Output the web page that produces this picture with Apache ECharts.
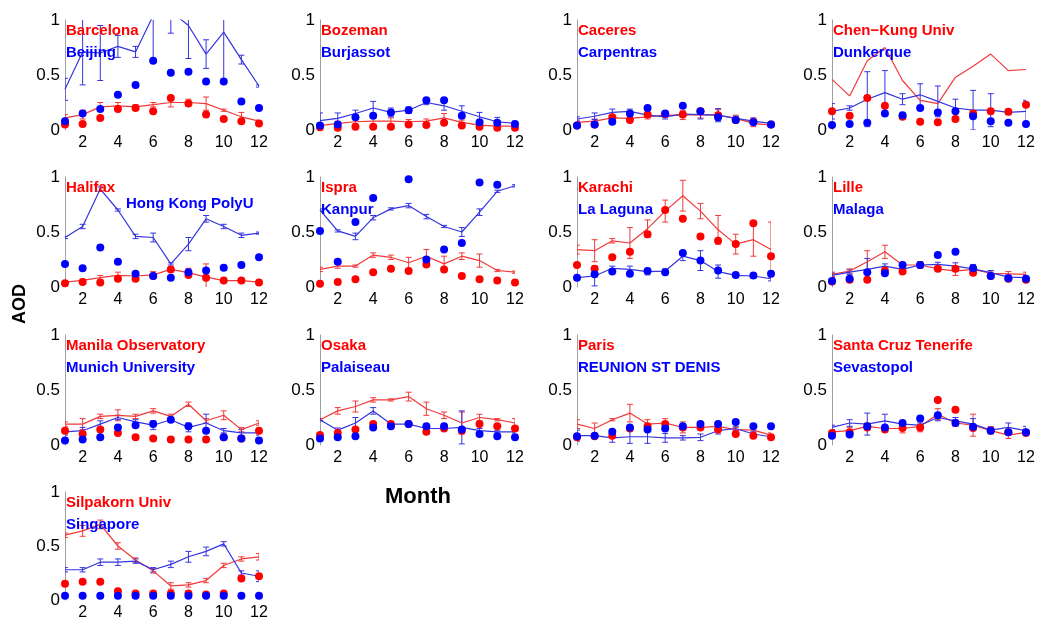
<!DOCTYPE html>
<html><head><meta charset="utf-8">
<script src="https://cdn.jsdelivr.net/npm/echarts@6/dist/echarts.min.js"></script>
<style>html,body{margin:0;padding:0;background:#fff}#c{width:1038px;height:621px}</style>
</head><body><div id="c"></div>
<script>
const months = [1,2,3,4,5,6,7,8,9,10,11,12];
const yTicks = [0, 0.5, 1];
const siteRed = ['Barcelona','Bozeman','Caceres','Chen\u2212Kung Univ','Halifax','Ispra','Karachi','Lille','Manila Observatory','Osaka','Paris','Santa Cruz Tenerife','Silpakorn Univ'];
const siteBlue = ['Beijing','Burjassot','Carpentras','Dunkerque','Hong Kong PolyU','Kanpur','La Laguna','Malaga','Munich University','Palaiseau','REUNION ST DENIS','Sevastopol','Singapore'];

// ground-station monthly mean AOD (lines) and std (error bars)
const redMean = [
 [0.11,0.14,0.21,0.22,0.21,0.23,0.25,0.25,0.24,0.18,0.12,0.08],
 [0.04,0.06,0.075,0.08,0.08,0.075,0.08,0.11,0.07,0.045,0.035,0.035],
 [0.07,0.08,0.11,0.105,0.12,0.135,0.135,0.14,0.135,0.105,0.06,0.045],
 [0.46,0.31,0.63,0.75,0.45,0.27,0.24,0.48,0.58,0.69,0.54,0.55],
 [0.045,0.06,0.085,0.105,0.1,0.11,0.16,0.13,0.09,0.058,0.058,0.045],
 [0.16,0.19,0.19,0.29,0.27,0.22,0.28,0.21,0.28,0.24,0.15,0.135],
 [0.34,0.33,0.42,0.40,0.53,0.69,0.83,0.69,0.52,0.39,0.43,0.34],
 [0.115,0.145,0.23,0.32,0.2,0.2,0.165,0.145,0.16,0.125,0.12,0.115],
 [0.19,0.19,0.26,0.27,0.26,0.31,0.26,0.37,0.22,0.27,0.14,0.2],
 [0.23,0.31,0.35,0.41,0.41,0.44,0.33,0.27,0.2,0.25,0.23,0.2],
 [0.19,0.15,0.23,0.29,0.19,0.2,0.16,0.16,0.17,0.14,0.135,0.09],
 [0.12,0.13,0.17,0.15,0.15,0.17,0.28,0.2,0.18,0.13,0.09,0.115],
 [0.60,0.64,0.70,0.50,0.37,0.27,0.13,0.14,0.18,0.32,0.38,0.40]
];
const redErr = [
 [0.03,0.04,0.04,0.03,0.02,0.02,0.04,0.03,0.06,0.01,0.04,0.01],
 [0.02,0.02,0.02,0.03,0.03,0.02,0.02,0.04,0.02,0.02,0.01,0.01],
 [0.02,0.02,0.02,0.02,0.02,0.02,0.04,0.03,0.05,0.03,0.03,0.01],
 [0,0,0,0,0,0,0,0,0,0,0,0],
 [0.01,0.01,0.02,0.03,0.02,0.03,0.02,0.04,0.12,0.01,0.01,0.01],
 [0.02,0.02,0.01,0.02,0.02,0.05,0.06,0.07,0.03,0.06,0.01,0.01],
 [0.04,0.1,0.02,0.14,0.08,0.1,0.14,0.07,0.13,0.09,0.15,0.25],
 [0.02,0.02,0.1,0.06,0.01,0.02,0.02,0.04,0.02,0.02,0.02,0.02],
 [0.02,0.05,0.02,0.05,0.02,0.02,0.02,0.02,0.02,0.04,0.02,0.02],
 [0.01,0.03,0.05,0.02,0.01,0.04,0.06,0.03,0.1,0.03,0.01,0.04],
 [0.04,0.05,0.01,0.08,0.04,0.04,0.05,0.02,0.02,0.02,0.02,0.02],
 [0.02,0.03,0.03,0.02,0.04,0.05,0.05,0.03,0.1,0.03,0.03,0.03],
 [0.02,0.05,0.04,0.03,0.02,0.02,0.03,0.02,0.02,0.02,0.02,0.03]
];
// satellite monthly AOD (dots)
const redSat = [
 [0.05,0.055,0.11,0.19,0.2,0.17,0.29,0.24,0.14,0.1,0.08,0.06],
 [0.025,0.02,0.03,0.03,0.03,0.05,0.045,0.065,0.04,0.03,0.02,0.02],
 [0.04,0.05,0.115,0.09,0.14,0.145,0.14,0.17,0.135,0.09,0.075,0.05],
 [0.17,0.13,0.29,0.22,0.12,0.075,0.07,0.1,0.15,0.17,0.165,0.23],
 [0.035,0.045,0.04,0.075,0.075,0.1,0.16,0.11,0.085,0.06,0.058,0.04],
 [0.03,0.045,0.07,0.135,0.165,0.145,0.205,0.16,0.1,0.07,0.06,0.04],
 [0.2,0.165,0.27,0.32,0.48,0.70,0.62,0.46,0.42,0.39,0.58,0.28],
 [0.05,0.065,0.065,0.15,0.14,0.2,0.165,0.165,0.13,0.1,0.075,0.065],
 [0.13,0.1,0.14,0.11,0.07,0.06,0.05,0.05,0.05,0.07,0.06,0.13],
 [0.09,0.11,0.14,0.19,0.19,0.19,0.12,0.15,0.13,0.19,0.17,0.15],
 [0.07,0.08,0.085,0.15,0.17,0.19,0.16,0.16,0.14,0.1,0.085,0.07],
 [0.11,0.115,0.16,0.14,0.155,0.16,0.41,0.32,0.155,0.135,0.115,0.11],
 [0.15,0.17,0.17,0.08,0.06,0.06,0.06,0.06,0.05,0.06,0.2,0.22]
];
const blueMean = [
 [0.37,0.71,0.70,0.76,0.71,1.04,1.08,0.95,0.69,0.89,0.64,0.40],
 [0.085,0.105,0.15,0.2,0.16,0.18,0.25,0.22,0.17,0.12,0.075,0.06],
 [0.1,0.125,0.16,0.17,0.135,0.12,0.145,0.14,0.135,0.105,0.08,0.06],
 [0.17,0.2,0.28,0.34,0.28,0.32,0.26,0.2,0.18,0.18,0.16,0.17],
 [0.45,0.55,0.89,0.70,0.46,0.45,0.21,0.39,0.62,0.55,0.47,0.49],
 [0.70,0.51,0.46,0.63,0.71,0.74,0.64,0.55,0.50,0.68,0.87,0.92],
 [0.085,0.1,0.17,0.16,0.14,0.145,0.28,0.24,0.14,0.105,0.1,0.075],
 [0.105,0.135,0.16,0.19,0.16,0.2,0.205,0.19,0.165,0.13,0.09,0.085],
 [0.12,0.13,0.19,0.25,0.21,0.18,0.23,0.16,0.2,0.13,0.11,0.11],
 [0.23,0.135,0.2,0.31,0.19,0.19,0.15,0.15,0.16,0.13,0.12,0.12],
 [0.085,0.085,0.065,0.075,0.075,0.065,0.065,0.07,0.13,0.15,0.1,0.075],
 [0.16,0.2,0.19,0.22,0.19,0.18,0.25,0.22,0.19,0.135,0.16,0.13],
 [0.28,0.28,0.35,0.35,0.36,0.28,0.33,0.40,0.45,0.52,0.25,0.22]
];
const blueErr = [
 [0.1,0.3,0.25,0.1,0.05,0.4,0.2,0.3,0.13,0.45,0.04,0.01],
 [0.07,0.05,0.03,0.06,0.04,0.03,0.02,0.04,0.05,0.04,0.04,0.02],
 [0.02,0.03,0.03,0.02,0.02,0.02,0.02,0.04,0.06,0.02,0.03,0.01],
 [0.07,0.02,0.25,0.2,0.05,0.1,0.14,0.08,0.18,0.15,0.02,0.1],
 [0.01,0.02,0.02,0.01,0.02,0.04,0.01,0.06,0.03,0.02,0.02,0.01],
 [0.01,0.01,0.03,0.02,0.01,0.02,0.02,0.01,0.04,0.03,0.01,0.01],
 [0.01,0.09,0.02,0.03,0.03,0.02,0.04,0.09,0.06,0.02,0.02,0.02],
 [0.02,0.02,0.1,0.02,0.02,0.03,0.02,0.03,0.04,0.02,0.02,0.02],
 [0.03,0.03,0.03,0.02,0.02,0.04,0.02,0.04,0.08,0.02,0.03,0.02],
 [0.01,0.02,0.05,0.03,0.01,0.01,0.02,0.02,0.15,0.02,0.01,0.01],
 [0.05,0.02,0.04,0.06,0.06,0.04,0.02,0.03,0.03,0.02,0.02,0.01],
 [0.02,0.03,0.1,0.06,0.02,0.02,0.03,0.03,0.05,0.03,0.04,0.04],
 [0.02,0.02,0.03,0.03,0.02,0.02,0.03,0.05,0.04,0.02,0.02,0.05]
];
const blueSat = [
 [0.08,0.15,0.19,0.32,0.41,0.63,0.52,0.53,0.44,0.44,0.26,0.2],
 [0.04,0.05,0.115,0.13,0.16,0.18,0.27,0.27,0.13,0.07,0.065,0.055],
 [0.04,0.05,0.075,0.15,0.2,0.15,0.22,0.17,0.115,0.09,0.07,0.05],
 [0.045,0.055,0.065,0.15,0.135,0.2,0.16,0.17,0.125,0.08,0.065,0.055],
 [0.21,0.17,0.36,0.23,0.12,0.1,0.085,0.135,0.15,0.175,0.2,0.27],
 [0.51,0.23,0.59,0.81,null,0.98,0.25,0.34,0.4,0.95,0.93,null],
 [0.085,0.115,0.14,0.12,0.145,0.135,0.31,0.24,0.15,0.11,0.105,0.12],
 [0.055,0.075,0.135,0.125,0.2,0.2,0.29,0.32,0.17,0.1,0.08,0.075],
 [0.04,0.05,0.07,0.16,0.18,0.19,0.23,0.17,0.13,0.07,0.06,0.04],
 [0.06,0.07,0.08,0.16,0.17,0.19,0.17,0.17,0.14,0.1,0.08,0.07],
 [0.08,0.085,0.12,0.16,0.14,0.15,0.17,0.19,0.19,0.21,0.17,0.17],
 [0.085,0.095,0.17,0.16,0.2,0.24,0.27,0.2,0.165,0.13,0.115,0.115],
 [0.04,0.04,0.04,0.04,0.04,0.04,0.04,0.04,0.04,0.04,0.04,0.04]
];

const FONT = '"Liberation Sans", Arial, Helvetica, sans-serif';
const RED = '#ff0000', BLUE = '#0000ff';
const RED_L = '#f03a3a', BLUE_L = '#3535e0';
const colL = [65, 320, 577, 832], colR = [259, 515, 771, 1026];
const rowT = [20, 177, 335, 492], rowB = [130, 287, 445, 601];

const chart = echarts.init(document.getElementById('c'), null, {renderer: 'canvas'});
const grids = [], xAxes = [], yAxes = [], series = [], graphics = [];

function errRender(color) {
  return function (params, api) {
    const x = api.value(0), lo = api.value(1), hi = api.value(2);
    const a = api.coord([x, hi]), b = api.coord([x, lo]);
    const w = 3, st = {stroke: color, lineWidth: 1};
    return {type: 'group', children: [
      {type: 'line', shape: {x1: a[0], y1: a[1], x2: b[0], y2: b[1]}, style: st},
      {type: 'line', shape: {x1: a[0]-w, y1: a[1], x2: a[0]+w, y2: a[1]}, style: st},
      {type: 'line', shape: {x1: b[0]-w, y1: b[1], x2: b[0]+w, y2: b[1]}, style: st}
    ]};
  };
}

siteRed.forEach((name, i) => {
  const r = Math.floor(i / 4), c = i % 4;
  grids.push({left: colL[c], top: rowT[r], width: colR[c]-colL[c], height: rowB[r]-rowT[r]});
  xAxes.push({gridIndex: i, type: 'value', min: 1, max: 12, interval: 1,
    axisLine: {show: false}, axisTick: {show: false}, splitLine: {show: false},
    axisLabel: {margin: 5, fontSize: 16, color: '#000', fontFamily: FONT,
      formatter: v => (v % 2 === 0 ? String(v) : '')}});
  yAxes.push({gridIndex: i, type: 'value', min: yTicks[0], max: yTicks[2], interval: yTicks[1],
    axisLine: {show: true, lineStyle: {color: '#a0a0a0', width: 1}}, axisTick: {show: false}, splitLine: {show: false},
    axisLabel: {margin: 5, fontSize: 17, color: '#000', fontFamily: FONT}});
  const mk = arr => months.map((m, j) => [m, arr[j]]);
  const mkErr = (mean, err) => months.map((m, j) => [m, mean[j]-err[j], mean[j]+err[j]]).filter((d, j) => err[j] > 0);
  series.push({type: 'line', xAxisIndex: i, yAxisIndex: i, data: mk(redMean[i]), symbol: 'none', clip: true,
    lineStyle: {color: RED_L, width: 1.2}, z: 2, silent: true});
  series.push({type: 'custom', xAxisIndex: i, yAxisIndex: i, data: mkErr(redMean[i], redErr[i]), clip: true,
    renderItem: errRender(RED_L), z: 2, silent: true});
  series.push({type: 'line', xAxisIndex: i, yAxisIndex: i, data: mk(blueMean[i]), symbol: 'none', clip: true,
    lineStyle: {color: BLUE_L, width: 1.2}, z: 2, silent: true});
  series.push({type: 'custom', xAxisIndex: i, yAxisIndex: i, data: mkErr(blueMean[i], blueErr[i]), clip: true,
    renderItem: errRender(BLUE_L), z: 2, silent: true});
  series.push({type: 'scatter', xAxisIndex: i, yAxisIndex: i, data: mk(redSat[i]).filter(d => d[1] != null),
    symbol: 'circle', symbolSize: 8, itemStyle: {color: RED, opacity: 1}, z: 3, silent: true});
  series.push({type: 'scatter', xAxisIndex: i, yAxisIndex: i, data: mk(blueSat[i]).filter(d => d[1] != null),
    symbol: 'circle', symbolSize: 8, itemStyle: {color: BLUE, opacity: 1}, z: 4, silent: true});
  graphics.push({type: 'text', x: colL[c] + 1, y: rowT[r] + 11, z: 10,
    style: {text: name, fill: RED, font: 'bold 15px ' + FONT, verticalAlign: 'middle'}});
  const special = (i === 4);
  graphics.push({type: 'text', x: special ? 126 : colL[c] + 1, y: special ? 204 : rowT[r] + 33, z: 10,
    style: {text: siteBlue[i], fill: BLUE, font: 'bold 15px ' + FONT, verticalAlign: 'middle'}});
});
graphics.push({type: 'text', x: 20, y: 304, rotation: Math.PI / 2,
  style: {text: 'AOD', fill: '#000', font: 'bold 18px ' + FONT, align: 'center', verticalAlign: 'middle'}});
graphics.push({type: 'text', x: 418, y: 497,
  style: {text: 'Month', fill: '#000', font: 'bold 22px ' + FONT, align: 'center', verticalAlign: 'middle'}});

chart.setOption({animation: false, backgroundColor: '#fff', grid: grids, xAxis: xAxes, yAxis: yAxes, series, graphic: graphics});
</script></body></html>
